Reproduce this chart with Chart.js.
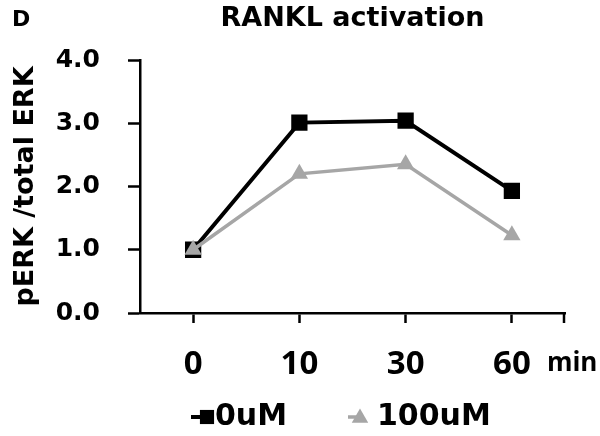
<!DOCTYPE html>
<html>
<head>
<meta charset="utf-8">
<script src="https://cdn.jsdelivr.net/npm/chart.js@4"></script>
<style>
    body { margin: 0; background: #fff; }
    #wrap { width: 600px; height: 436px; }
</style>
</head>
<body>
<div id="wrap"><canvas id="rankChart" width="600" height="436"></canvas></div>
<script>
// chart data
const categories = ['0', '10', '30', '60'];
const seriesLabels = ['0uM', '100uM'];
const control = [1.0, 3.01, 3.04, 1.93];
const treated = [1.0, 2.2, 2.35, 1.23];
const yTickValues = [0, 1, 2, 3, 4];

const GRAY = '#a6a6a6';

// panel letter, "min" unit, last boundary tick and the legend
const extrasPlugin = {
    id: 'extras',
    afterDraw(chart) {
        const ctx = chart.ctx;
        const x = chart.scales.x;
        ctx.save();
        ctx.fillStyle = '#000';
        ctx.font = 'bold 22px "DejaVu Sans"';
        ctx.textAlign = 'left';
        ctx.textBaseline = 'alphabetic';
        ctx.fillText('D', 12, 26);

        // closing tick at the right end of the x axis
        ctx.strokeStyle = '#000';
        ctx.lineWidth = 2.5;
        ctx.beginPath();
        ctx.moveTo(x.right - 1, x.top);
        ctx.lineTo(x.right - 1, x.top + 10);
        ctx.stroke();

        ctx.font = 'bold 26px "Open Sans"';
        ctx.textBaseline = 'middle';
        ctx.fillText('min', x.getPixelForTick(3) + 35, 364);

        // legend
        const items = [
            { x: 191, ds: chart.data.datasets[0] },
            { x: 348, ds: chart.data.datasets[1] }
        ];
        const ly = 417;
        items.forEach(it => {
            const ds = it.ds;
            const isRect = ds.pointStyle === 'rect';
            ctx.strokeStyle = ds.borderColor;
            ctx.lineWidth = ds.borderWidth;
            ctx.beginPath();
            ctx.moveTo(it.x, ly);
            ctx.lineTo(it.x + 14, ly);
            ctx.stroke();
            ctx.fillStyle = ds.pointBackgroundColor;
            Chart.helpers.drawPoint(ctx, {
                pointStyle: ds.pointStyle,
                radius: isRect ? 10 : 9.5,
                rotation: 0,
                borderWidth: 0
            }, it.x + (isRect ? 16 : 12), ly + (isRect ? 0 : 1));
            ctx.fillStyle = '#000';
            ctx.font = 'bold 30px "DejaVu Sans"';
            ctx.textAlign = 'left';
            ctx.fillText(ds.label, it.x + (isRect ? 24 : 29), ly);
        });
        ctx.restore();
    }
};

const ctx = document.getElementById('rankChart').getContext('2d');
const rankChart = new Chart(ctx, {
    type: 'line',
    data: {
        labels: categories,
        datasets: [
            {
                label: seriesLabels[0],
                data: control,
                borderColor: '#000',
                backgroundColor: '#000',
                pointBackgroundColor: '#000',
                pointBorderWidth: 0,
                borderWidth: 4,
                pointStyle: 'rect',
                pointRadius: 11.5,
                pointHoverRadius: 11.5,
                tension: 0,
                order: 1
            },
            {
                label: seriesLabels[1],
                data: treated,
                borderColor: GRAY,
                backgroundColor: GRAY,
                pointBackgroundColor: GRAY,
                pointBorderWidth: 0,
                borderWidth: 3.5,
                pointStyle: 'triangle',
                pointRadius: 10,
                pointHoverRadius: 10,
                tension: 0,
                order: 0
            }
        ]
    },
    options: {
        responsive: false,
        animation: false,
        layout: { padding: { left: 0, right: 35, top: 0, bottom: 0 } },
        plugins: {
            legend: { display: false },
            tooltip: { enabled: false },
            title: {
                display: true,
                text: 'RANKL activation',
                fullSize: false,
                color: '#000',
                font: { family: 'DejaVu Sans', size: 27, weight: 'bold' },
                padding: { top: 3, bottom: 24.6 }
            }
        },
        scales: {
            x: {
                offset: true,
                afterFit(scale) { scale.height = 123; },
                border: { color: '#000', width: 2.5 },
                grid: {
                    offset: false,
                    drawOnChartArea: false,
                    tickLength: 10,
                    tickColor: '#000',
                    tickWidth: 2.5
                },
                ticks: {
                    color: '#000',
                    padding: 22,
                    font: { family: 'Open Sans', size: 33, weight: 'bold' }
                }
            },
            y: {
                min: 0,
                max: 4,
                afterFit(scale) { scale.width = 140; },
                afterBuildTicks(scale) {
                    scale.ticks = yTickValues.map(v => ({ value: v }));
                },
                border: { color: '#000', width: 2.5 },
                grid: {
                    drawOnChartArea: false,
                    tickLength: 12,
                    tickColor: '#000',
                    tickWidth: 2.5
                },
                ticks: {
                    color: '#000',
                    padding: 28,
                    font: { family: 'DejaVu Sans', size: 25, weight: 'bold' },
                    callback: v => v.toFixed(1)
                },
                title: {
                    display: true,
                    text: 'pERK /total ERK',
                    color: '#000',
                    padding: { top: 10, bottom: 0 },
                    font: { family: 'DejaVu Sans', size: 27, weight: 'bold' }
                }
            }
        }
    },
    plugins: [extrasPlugin]
});
</script>
</body>
</html>
